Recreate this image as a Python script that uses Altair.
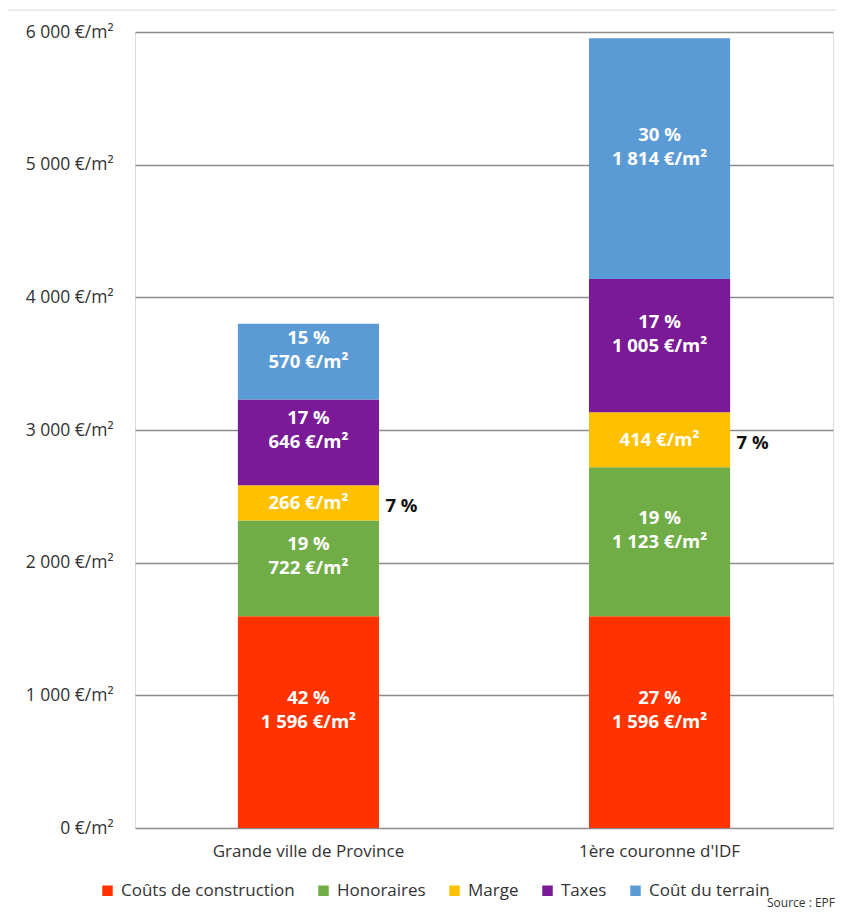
import altair as alt
import pandas as pd

categories = ["Grande ville de Province", "1ère couronne d'IDF"]
components = ["Coûts de construction", "Honoraires", "Marge", "Taxes", "Coût du terrain"]
colors = ["#FF3300", "#70AD47", "#FFC000", "#7A1A96", "#5B9BD5"]
province_values = [1596, 722, 266, 646, 570]
idf_values = [1596, 1123, 414, 1005, 1814]
province_pct = ["42 %", "19 %", "7 %", "17 %", "15 %"]
idf_pct = ["27 %", "19 %", "7 %", "17 %", "30 %"]

FONT = "Open Sans"

rows = []
for cat, vals, pcts in [(categories[0], province_values, province_pct),
                        (categories[1], idf_values, idf_pct)]:
    cum = 0
    for i, (comp, v, p) in enumerate(zip(components, vals, pcts)):
        mid = cum + v / 2
        cum += v
        val_lbl = f"{v:,}".replace(",", " ") + " €/m²"
        inside_pct = "" if comp == "Marge" else p
        outside_pct = p if comp == "Marge" else ""
        rows.append(dict(cat=cat, comp=comp, value=v, idx=i, mid=mid,
                         pct_in=inside_pct, pct_out=outside_pct, val_lbl=val_lbl))
df = pd.DataFrame(rows)

xenc = alt.X("cat:N", sort=categories,
             scale=alt.Scale(paddingInner=0.598, paddingOuter=0.293),
             axis=alt.Axis(title=None, labelAngle=0, domain=False, ticks=False,
                           labelPadding=15, labelFontSize=17, labelColor="#333333",
                           labelFont=FONT, grid=False, labelLimit=0))
yscale = alt.Scale(domain=[0, 6000])

base = alt.Chart(df)

bars = base.mark_bar(strokeWidth=0).encode(
    x=xenc,
    y=alt.Y("value:Q", stack="zero", scale=yscale,
            axis=alt.Axis(title=None, values=[0, 1000, 2000, 3000, 4000, 5000, 6000],
                          labelExpr="replace(format(datum.value, ',d'), ',', ' ') + ' €/m²'",
                          domain=False, ticks=False, labelPadding=22, labelFontSize=17.5,
                          labelColor="#333333", labelFont=FONT, labelLimit=0,
                          gridColor="#8c8c8c", gridWidth=1.5)),
    color=alt.Color("comp:N", sort=components,
                    scale=alt.Scale(domain=components, range=colors),
                    legend=alt.Legend(title=None, orient="none", direction="horizontal",
                                      legendX=-36, legendY=850, symbolType="square",
                                      symbolSize=110, symbolStrokeWidth=0,
                                      labelFontSize=17, labelFont=FONT, labelColor="#333333",
                                      labelOffset=5, columnPadding=20, labelLimit=0)),
    order=alt.Order("idx:Q"),
)

pct_in = base.transform_filter("datum.pct_in != ''").mark_text(
    color="white", fontWeight="bold", fontSize=18.5, font=FONT, dy=-24
).encode(x=alt.X("cat:N", sort=categories), y=alt.Y("mid:Q"), text="pct_in:N")

val_in = base.mark_text(
    color="white", fontWeight="bold", fontSize=18.5, font=FONT, dy=0
).encode(x=alt.X("cat:N", sort=categories), y=alt.Y("mid:Q"), text="val_lbl:N")

pct_out = base.transform_filter("datum.pct_out != ''").mark_text(
    color="#111111", fontWeight="bold", fontSize=18.5, font=FONT, align="left", dx=77, dy=3
).encode(x=alt.X("cat:N", sort=categories), y=alt.Y("mid:Q"), text="pct_out:N")

src = alt.Chart(pd.DataFrame({"t": ["Source : EPF"]})).mark_text(
    align="right", baseline="alphabetic", fontSize=12, font=FONT, color="#333333"
).encode(x=alt.value(700), y=alt.value(875), text="t:N")

frame_top = alt.Chart(pd.DataFrame({"a": [0]})).mark_rule(color="#d9d9d9", strokeWidth=1).encode(
    x=alt.value(-130), x2=alt.value(720), y=alt.value(-22))
frame_left = alt.Chart(pd.DataFrame({"a": [0]})).mark_rule(color="#d9d9d9", strokeWidth=1).encode(
    x=alt.value(-130), y=alt.value(-22), y2=alt.value(900))

chart = alt.layer(frame_top, frame_left, bars, pct_in, val_in, pct_out, src).properties(
    width=698, height=796,
    autosize=alt.AutoSizeParams(type="none"),
    padding={"left": 127, "top": 24, "right": 3, "bottom": 83},
).configure_view(stroke=None).configure(font=FONT)

chart.save("out.html", embed_options={"renderer": "svg", "actions": False})
